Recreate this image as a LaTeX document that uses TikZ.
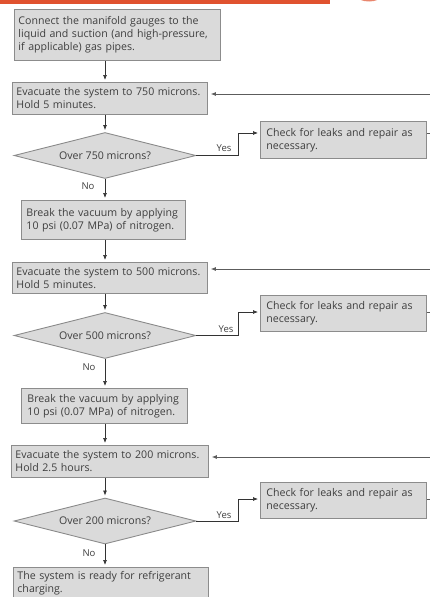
\documentclass[tikz,border=0pt]{standalone}
\usepackage{fontspec}
\setmainfont{Open Sans}
\usetikzlibrary{shapes.geometric,arrows.meta}
\definecolor{boxfill}{HTML}{DADADA}
\definecolor{boxline}{HTML}{8C8C8C}
\definecolor{txt}{HTML}{3E3E3E}
\definecolor{arrowc}{HTML}{333333}
\definecolor{orangebar}{HTML}{E0522F}
\begin{document}
\begin{tikzpicture}[x=1pt,y=-1pt,
  every node/.style={font=\fontsize{10.6}{13}\selectfont, text=txt},
  box/.style={draw=boxline, fill=boxfill, line width=0.9pt, anchor=north west,
    align=left, inner xsep=4pt, inner ysep=2pt},
  dia/.style={draw=boxline, fill=boxfill, line width=0.9pt, shape=diamond,
    minimum width=182pt, minimum height=46pt, inner sep=0pt, shape aspect=4},
  lbl/.style={font=\fontsize{9.5}{11}\selectfont, inner sep=0pt},
  arr/.style={draw=arrowc, line width=0.7pt, -{Latex[length=5pt,width=4pt]}, shorten >=2pt},
  ret/.style={draw=arrowc!80, line width=0.7pt, -{Latex[length=5pt,width=4pt]}, shorten >=3pt}]
\useasboundingbox (0,0) rectangle (430,597);
% top decoration
\fill[orangebar] (0,0) rectangle (330,4);
\fill[orangebar!70] (369,-4) ellipse [x radius=12pt, y radius=5.5pt];

% boxes
\node[box, minimum width=206pt, minimum height=51pt, text width=198pt] (b1) at (14,9)
  {Connect the manifold gauges to the\\liquid and suction (and high-pressure,\\if applicable) gas pipes.};
\node[box, minimum width=195pt, minimum height=32pt, text width=187pt] (b2) at (12,82)
  {Evacuate the system to 750 microns.\\Hold 5 minutes.};
\node[dia] (d1) at (105,155.5) {Over 750 microns?};
\node[box, minimum width=166pt, minimum height=37pt, text width=154pt, inner xsep=6pt] (c1) at (260,121)
  {Check for leaks and repair as\\necessary.};
\node[box, minimum width=164pt, minimum height=39pt, text width=154pt, inner xsep=5pt] (b3) at (21,200)
  {Break the vacuum by applying\\10 psi (0.07 MPa) of nitrogen.};
\node[box, minimum width=195pt, minimum height=31pt, text width=187pt] (b4) at (12,262)
  {Evacuate the system to 500 microns.\\Hold 5 minutes.};
\node[dia] (d2) at (105,335.5) {Over 500 microns?};
\node[box, minimum width=166pt, minimum height=36pt, text width=154pt, inner xsep=6pt] (c2) at (260,295)
  {Check for leaks and repair as\\necessary.};
\node[box, minimum width=166pt, minimum height=35pt, text width=154pt, inner xsep=5pt] (b5) at (21,388)
  {Break the vacuum by applying\\10 psi (0.07 MPa) of nitrogen.};
\node[box, minimum width=197pt, minimum height=32pt, text width=189pt] (b6) at (11,445)
  {Evacuate the system to 200 microns.\\Hold 2.5 hours.};
\node[dia] (d3) at (105,521) {Over 200 microns?};
\node[box, minimum width=166pt, minimum height=36pt, text width=154pt, inner xsep=6pt] (c3) at (260,482)
  {Check for leaks and repair as\\necessary.};
\node[box, minimum width=195pt, minimum height=31pt, text width=187pt, inner ysep=1pt] (b7) at (13,567)
  {The system is ready for refrigerant\\charging.};

% vertical flow
\draw[arr] (b1.south -| 105,0) -- (d1.north |- b2.north);
\draw[arr] (b2.south -| d1.north) -- (d1.north);
\draw[arr] (d1.south) -- (d1.south |- b3.north);
\draw[arr] (b3.south -| d1.south) -- (d1.south |- b4.north);
\draw[arr] (b4.south -| d2.north) -- (d2.north);
\draw[arr] (d2.south) -- (d2.south |- b5.north);
\draw[arr] (b5.south -| d2.south) -- (d2.south |- b6.north);
\draw[arr] (b6.south -| d3.north) -- (d3.north);
\draw[arr] (d3.south) -- (d3.south |- b7.north);

% yes branches
\draw[arr] (d1.east) -- (238,155.5) |- (c1.west |- 0,133);
\draw[arr] (d2.east) -- (238,335.5) |- (c2.west |- 0,312);
\draw[arr] (d3.east) -- (238,521) |- (c3.west |- 0,499);
\node[lbl] (y1) at (224,148) {Yes};
\node[lbl] (y2) at (226,329) {Yes};
\node[lbl] (y3) at (224,515) {Yes};
\node[lbl] (n1) at (88,186) {No};
\node[lbl] (n2) at (89,367) {No};
\node[lbl] (n3) at (89,553) {No};

% return loops
\draw[ret] (c1.east |- 0,133) -- (445,133) -- (445,94) -- (b2.east |- 0,94);
\draw[ret] (c2.east |- 0,312) -- (445,312) -- (445,269) -- (b4.east |- 0,269);
\draw[ret] (c3.east |- 0,499) -- (445,499) -- (445,457) -- (b6.east |- 0,457);
\end{tikzpicture}
\end{document}
